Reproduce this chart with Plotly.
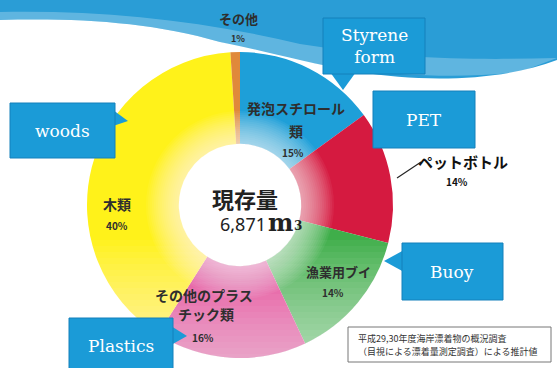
import plotly.graph_objects as go

W, H = 557, 368

# ---- data ----
labels = ["発泡スチロール類", "ペットボトル", "漁業用ブイ", "その他のプラスチック類", "木類", "その他"]
values = [15, 14, 14, 16, 40, 1]
colors = ["#1e9fd8", "#d51a40", "#3fae4a", "#df2f8a", "#fff21a", "#e0893a"]
total_text = "6,871"
callouts = ["Styrene<br>form", "PET", "woods", "Buoy", "Plastics"]

def px(x):
    return x / W

def py(y):
    return 1 - y / H

def path(points):
    s = "M " + " L ".join(f"{px(x):.5f},{py(y):.5f}" for x, y in points) + " Z"
    return s

fig = go.Figure()
fig.add_trace(go.Pie(
    labels=labels, values=values, sort=False, direction="clockwise", rotation=0,
    hole=0.4, textinfo="none", hoverinfo="skip", showlegend=False,
    marker=dict(colors=colors, line=dict(width=0)),
    domain=dict(x=[px(87), px(393)], y=[py(358), py(52)]),
))

shapes = []
# top blue swoosh background
shapes.append(dict(type="path", xref="paper", yref="paper", layer="below",
    path=("M 0,1 L 1,1 L 1,{a} C {b},{c} {d},{e} {f},{g} C {h},{i} {j},{k} {l},{m} C {n},{o} {p},{q} 0,{r} Z").format(
        a=py(60), b=px(500), c=py(82), d=px(420), e=py(82), f=px(360), g=py(72),
        h=px(300), i=py(62), j=px(262), k=py(50), l=px(220), m=py(42),
        n=px(150), o=py(22), p=px(80), q=py(18), r=py(20)),
    fillcolor="#2a9dd6", line=dict(width=0)))
# lighter streak
shapes.append(dict(type="path", xref="paper", yref="paper", layer="below",
    path=("M 0,{a} C {b},{c} {d},{e} {f},{g} C {h},{i} {j},{k} {l},{m} L 1,{n} C {o},{p} {q},{r} {s},{t} C {u},{v} {w},{x} 0,{y} Z").format(
        a=py(20), b=px(80), c=py(18), d=px(150), e=py(22), f=px(220), g=py(42),
        h=px(300), i=py(66), j=px(420), k=py(84), l=px(520), m=py(72), n=py(58),
        o=px(480), p=py(60), q=px(400), r=py(60), s=px(300), t=py(44),
        u=px(200), v=py(20), w=px(100), x=py(10), y=py(12)),
    fillcolor="rgba(255,255,255,0.25)", line=dict(width=0)))

# radial fade near hole
cx, cy = 240, 205
for r in range(62, 96, 2):
    shapes.append(dict(type="circle", xref="paper", yref="paper", layer="above",
        x0=px(cx - r), x1=px(cx + r), y0=py(cy + r), y1=py(cy - r),
        fillcolor="rgba(255,255,255,0.055)", line=dict(width=0)))
# vertical fade at bottom of pie
for y0 in range(240, 362, 6):
    shapes.append(dict(type="rect", xref="paper", yref="paper", layer="above",
        x0=px(80), x1=px(400), y0=py(368), y1=py(y0),
        fillcolor="rgba(255,255,255,0.045)", line=dict(width=0)))

box_blue = "#1b9bd7"
def callout(x0, y0, x1, y1, tri):
    shapes.append(dict(type="path", xref="paper", yref="paper", layer="above",
        path=path(tri), fillcolor=box_blue, line=dict(width=0)))
    shapes.append(dict(type="rect", xref="paper", yref="paper", layer="above",
        x0=px(x0), x1=px(x1), y0=py(y1), y1=py(y0),
        fillcolor=box_blue, line=dict(color="#1580bb", width=1)))

callout(323, 18, 425, 74, [(330, 72), (343, 90), (356, 72)])
callout(373, 91, 475, 148, [(380, 140), (380, 146), (381, 146)])
callout(10, 103, 115, 158, [(113, 110), (128, 121), (113, 126)])
callout(402, 243, 503, 300, [(404, 250), (384, 261), (404, 272)])
callout(69, 318, 173, 372, [(171, 326), (187, 336), (171, 345)])

# note box
shapes.append(dict(type="rect", xref="paper", yref="paper", layer="above",
    x0=px(348), x1=px(551), y0=py(362), y1=py(327),
    fillcolor="white", line=dict(color="#777777", width=1)))
# leader line for PET label
shapes.append(dict(type="line", xref="paper", yref="paper", layer="above",
    x0=px(397), y0=py(178), x1=px(421), y1=py(162), line=dict(color="#222222", width=1.2)))

anns = []
def T(x, y, text, size, color="#2a2a2a", family="Noto Sans CJK JP", bold=True, xanchor="center"):
    t = f"<b>{text}</b>" if bold else text
    anns.append(dict(x=px(x), y=py(y), xref="paper", yref="paper", text=t, showarrow=False,
        xanchor=xanchor, yanchor="middle", font=dict(size=size, color=color, family=family)))

lab = "#2e2e2e"
T(238, 19, "その他", 13, lab)
T(238, 39, "1%", 9, lab)
T(296, 108, "発泡スチロール", 14, lab)
T(296, 131, "類", 14, lab)
T(293, 152, "15%", 10, lab)
T(463, 161, "ペットボトル", 15, "#111111")
T(457, 181, "14%", 10, "#111111")
T(117, 204, "木類", 14, lab)
T(117, 226, "40%", 10, lab)
T(339, 271, "漁業用ブイ", 13, lab)
T(333, 292, "14%", 10, lab)
T(204, 295, "その他のプラス", 14, lab)
T(206, 314, "チック類", 14, lab)
T(203, 337, "16%", 10, lab)

# center
T(245, 198, "現存量", 22, "#222222")
T(243, 224, total_text, 18, "#222222", family="Noto Sans", bold=False)
T(280, 222, "m", 24, "#222222", family="DejaVu Serif")
T(298, 226, "3", 12, "#222222", family="DejaVu Serif")

# callout texts
serif = "DejaVu Serif"
boxes = [(374, 46), (424, 120), (62, 131), (452, 272), (121, 346)]
for (x, y), t in zip(boxes, callouts):
    T(x, y, t, 17, "white", family=serif, bold=False)

# note text
T(356, 338, "平成29,30年度海岸漂着物の概況調査", 9, "#333333", bold=False, xanchor="left")
T(356, 351, "（目視による漂着量測定調査）による推計値", 9, "#333333", bold=False, xanchor="left")

fig.update_layout(width=W, height=H, autosize=False, margin=dict(l=0, r=0, t=0, b=0),
    paper_bgcolor="white", plot_bgcolor="white", shapes=shapes, annotations=anns)
fig.write_html("out.html", config={"displayModeBar": False, "staticPlot": True},
               post_script="document.body.style.margin='0';document.body.style.overflow='hidden';")
